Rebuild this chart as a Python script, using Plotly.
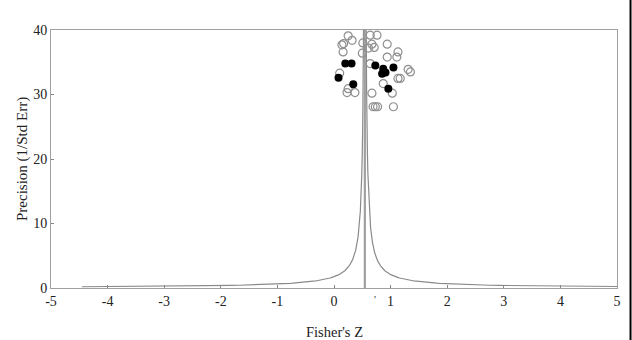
import numpy as np
import plotly.graph_objects as go

# Observed studies (open circles): Fisher's Z, precision
obs_z = [0.25, 0.32, 0.64, 0.76, 0.14, 0.17, 0.16, 0.51, 0.67, 0.71, 0.94, 0.50,
         0.94, 1.13, 1.11, 0.64, 1.31, 1.35, 0.10, 0.87, 1.13, 1.17, 0.25, 0.23,
         0.37, 1.03, 0.67, 0.69, 0.73, 0.77, 1.05, 0.61]
obs_prec = [39.1, 38.4, 39.2, 39.2, 37.7, 37.9, 36.6, 38.0, 37.8, 37.3, 37.8, 36.4,
            35.8, 36.6, 35.8, 34.8, 33.9, 33.5, 33.3, 31.7, 32.5, 32.5, 30.9, 30.3,
            30.3, 30.2, 30.2, 28.1, 28.1, 28.1, 28.1, 37.2]

# Imputed studies (filled circles)
imp_z = [0.20, 0.31, 0.73, 0.87, 0.91, 0.85, 1.05, 0.08, 0.34, 0.96]
imp_prec = [34.8, 34.8, 34.5, 34.0, 33.4, 33.2, 34.2, 32.6, 31.6, 30.9]

mean_z = 0.545
limit_k = 0.95
curve_prec = np.linspace(0.19, 40, 1500)

x_ticks = [-5, -4, -3, -2, -1, 0, 1, 2, 3, 4, 5]
y_ticks = [0, 10, 20, 30, 40]

fig = go.Figure()

# Funnel limits
fig.add_trace(go.Scatter(x=mean_z - limit_k / curve_prec, y=curve_prec, mode="lines",
                         line=dict(color="#8a8a8a", width=1.2), hoverinfo="skip"))
fig.add_trace(go.Scatter(x=mean_z + limit_k / curve_prec, y=curve_prec, mode="lines",
                         line=dict(color="#8a8a8a", width=1.2), hoverinfo="skip"))
# Mean line
fig.add_trace(go.Scatter(x=[mean_z, mean_z], y=[0, 40], mode="lines",
                         line=dict(color="#a0a0a0", width=2.2), hoverinfo="skip"))

fig.add_trace(go.Scatter(x=obs_z, y=obs_prec, mode="markers",
                         marker=dict(symbol="circle-open", size=8,
                                     color="#8f8f8f", line=dict(width=1.2))))
fig.add_trace(go.Scatter(x=imp_z, y=imp_prec, mode="markers",
                         marker=dict(symbol="circle", size=8, color="black")))

fig.add_annotation(x=0.72, y=0, yref="y", xref="x", text="'", showarrow=False,
                   yanchor="top", yshift=-3, font=dict(family="Liberation Serif", size=11, color="#333"))

# Axis titles
fig.add_annotation(x=0.5, xref="paper", y=0, yref="paper", yshift=-44, text="Fisher's Z",
                   showarrow=False, xanchor="center", yanchor="middle",
                   font=dict(family="Liberation Serif", size=14.5, color="#222"))
fig.add_annotation(x=0, xref="paper", xshift=-29, y=0.5, yref="paper", text="Precision (1/Std Err)",
                   textangle=-90, showarrow=False, xanchor="center", yanchor="middle",
                   font=dict(family="Liberation Serif", size=15, color="#222"))

# Page border line at the far right
fig.add_shape(type="line", xref="paper", yref="paper", x0=1.0239, x1=1.0239,
              y0=-0.25, y1=1.15, line=dict(color="black", width=2))

fig.update_layout(
    width=632, height=340,
    margin=dict(l=51, r=15, t=30, b=52),
    paper_bgcolor="white", plot_bgcolor="white",
    showlegend=False,
    font=dict(family="Liberation Serif", size=14, color="#222"),
)
fig.update_xaxes(range=[-5, 5], tickvals=x_ticks, ticktext=[str(t) for t in x_ticks],
                 showgrid=False, zeroline=False, showline=True, mirror=True,
                 linecolor="#a0a0a0", linewidth=1, ticks="inside", ticklen=3,
                 tickcolor="#888", automargin=False,
                 tickfont=dict(size=14, color="#222"))
fig.update_yaxes(range=[0, 40], tickvals=y_ticks, ticktext=[str(t) for t in y_ticks],
                 showgrid=False, zeroline=False, showline=True, mirror=True,
                 linecolor="#a0a0a0", linewidth=1, ticks="inside", ticklen=3,
                 tickcolor="#888", automargin=False,
                 tickfont=dict(size=14, color="#222"))

fig.write_html("out.html",
               config={"displayModeBar": False},
               post_script="document.body.style.margin='0';"
                           "document.documentElement.style.overflow='hidden';"
                           "document.body.style.overflow='hidden';")
